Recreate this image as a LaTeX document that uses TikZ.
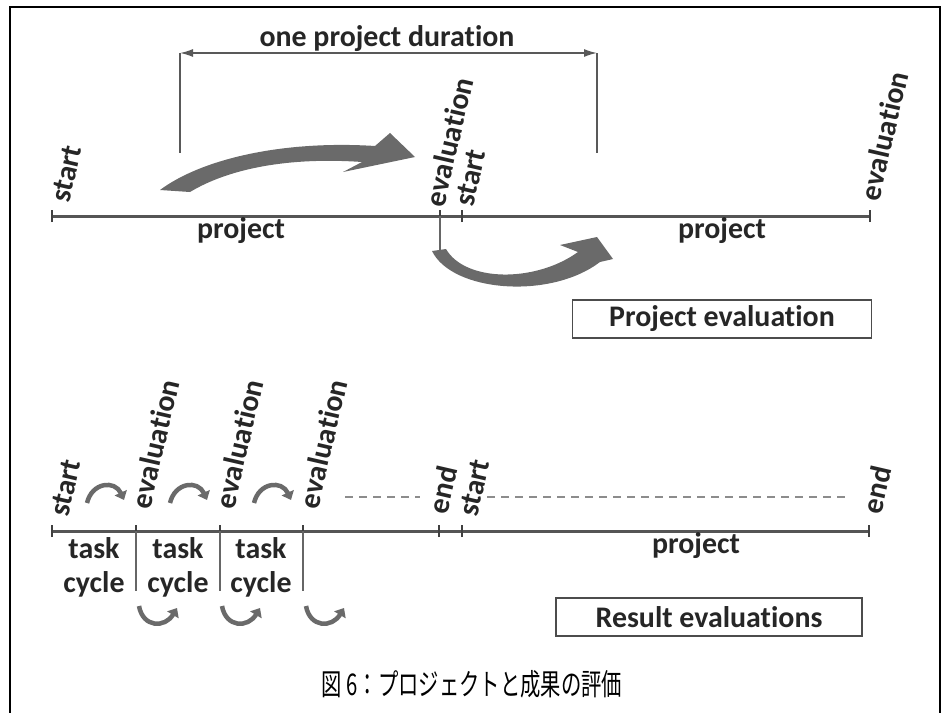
\documentclass[tikz,border=0pt]{standalone}
\usepackage{fontspec}
\setmainfont{Carlito}[Ligatures=CommonOff]
\newfontfamily\jpfont{Noto Sans CJK JP}
\usetikzlibrary{arrows.meta}
\definecolor{arrowgray}{HTML}{6A6A6A}
\definecolor{linegray}{HTML}{555555}
\tikzset{
  lab/.style={font=\fontsize{30}{33}\selectfont\bfseries, text=black!85, inner sep=0pt},
  vlab/.style={lab, anchor=west, rotate=77},
  timeline/.style={draw=linegray, line width=3bp},
  tickmark/.style={draw=black!75, line width=1.6bp},
  sepline/.style={draw=black!60, line width=1.6bp},
  dimline/.style={draw=black!65, line width=1.5bp},
  dashline/.style={draw=black!45, line width=1.3bp, dash pattern=on 8bp off 6bp},
  titlebox/.style={lab, draw=black!70, line width=1.5bp, minimum height=38bp},
  smallarc/.style={draw=arrowgray, line width=4.5bp, -{Triangle[length=8bp,width=13bp]}},
}
\begin{document}
\begin{tikzpicture}[x=1bp,y=-1bp]
\useasboundingbox (0,0) rectangle (944,713);
% outer frame, open at the bottom
\draw[line width=2bp] (10,713) -- (10,7) -- (940,7) -- (940,713);

% ---------- upper panel: project evaluation ----------
\coordinate (t0) at (52,216);
\coordinate (te) at (440,216);
\coordinate (ts) at (462,216);
\coordinate (tend) at (870,216);
\draw[timeline] (t0) -- (tend);
\foreach \c in {t0,te,ts,tend}
  \draw[tickmark] ([yshift=-6bp]\c) -- ([yshift=6bp]\c);

\node[vlab] (ustart) at (60,202) {start};
\node[vlab] (ueval) at (434,206) {evaluation};
\node[vlab] (ustart2) at (464,206) {start};
\node[vlab] (ueval2) at (869,200) {evaluation};

\node[lab, anchor=base] (uproj1) at (241,238) {project};
\node[lab, anchor=base] (uproj2) at (722,238) {project};

% duration bracket
\coordinate (dl) at (180,153);
\coordinate (dr) at (597,153);
\coordinate (dlt) at (180,53);
\coordinate (drt) at (597,53);
\draw[dimline] (dl) -- (dlt);
\draw[dimline] (dr) -- (drt);
\draw[dimline, {Latex[length=13bp,width=8bp]}-{Latex[length=13bp,width=8bp]}] (dlt) -- (drt);
\node[lab, anchor=base] (dur) at (387,47) {one project duration};

% big curved arrow over the first project
\fill[arrowgray] (160,190) .. controls (200,160) and (280,140) .. (375,146)
  -- (390,133) -- (415,157) -- (343,172) -- (362,162)
  .. controls (290,157) and (230,168) .. (190,192) -- cycle;

% drop from the evaluation tick and curved arrow into the next project
\coordinate (edrop) at (440,250);
\draw[sepline] (te) -- (edrop);
\fill[arrowgray] (432,251) .. controls (452,292) and (550,300) .. (600,262)
  -- (613,259) -- (597,237) -- (560,245) -- (578,252)
  .. controls (535,283) and (465,282) .. (446,249) -- cycle;

\node[titlebox, minimum width=299bp] (pe) at (722,319) {Project evaluation};

% ---------- lower panel: result evaluations ----------
\coordinate (b0) at (52,531);
\coordinate (b1) at (136,531);
\coordinate (b2) at (220,531);
\coordinate (b3) at (303,531);
\coordinate (bend1) at (439,531);
\coordinate (bs) at (462,531);
\coordinate (bend) at (869,531);
\draw[timeline] (b0) -- (bend);
\foreach \c in {b0,b1,b2,b3,bend1,bs,bend}
  \draw[tickmark] ([yshift=-6bp]\c) -- ([yshift=6bp]\c);
\foreach \c/\n in {b1/s1,b2/s2,b3/s3}{
  \coordinate (\n) at ([yshift=-60bp]\c);
  \draw[sepline] (\c) -- (\n);
}

\node[vlab] (lstart) at (59,516) {start};
\node[vlab] (leval1) at (140,508) {evaluation};
\node[vlab] (leval2) at (224,508) {evaluation};
\node[vlab] (leval3) at (308,508) {evaluation};
\node[vlab] (lend1) at (437,513) {end};
\node[vlab] (lstart2) at (468,516) {start};
\node[vlab] (lend2) at (871,513) {end};

\coordinate (da) at (345,497);
\coordinate (db) at (420,497);
\coordinate (dc) at (487,497);
\coordinate (dd) at (848,497);
\draw[dashline] (da) -- (db);
\draw[dashline] (dc) -- (dd);

\foreach \x/\n in {94/1,178/2,261/3}{
  \node[lab, anchor=base] (task\n) at (\x,558) {task};
  \node[lab, anchor=base] (cycle\n) at (\x,592) {cycle};
}
\node[lab, anchor=base] (lproj) at (696,553) {project};

% small cycle arrows above and below the line
\foreach \dx in {0,83,167}{
  \draw[smallarc] (87+\dx,503) .. controls (92+\dx,482) and (115+\dx,480) .. (124+\dx,500);
}
\foreach \dx in {0,83,167}{
  \draw[smallarc] (139+\dx,606) .. controls (143+\dx,628) and (165+\dx,628) .. (177+\dx,608);
}

\node[titlebox, minimum width=306bp] (re) at (709,617) {Result evaluations};

% caption
\node[font=\jpfont\fontsize{30}{34}\selectfont, xscale=0.68, inner sep=0pt] (cap) at (472,684) {図 6：プロジェクトと成果の評価};
\end{tikzpicture}
\end{document}
